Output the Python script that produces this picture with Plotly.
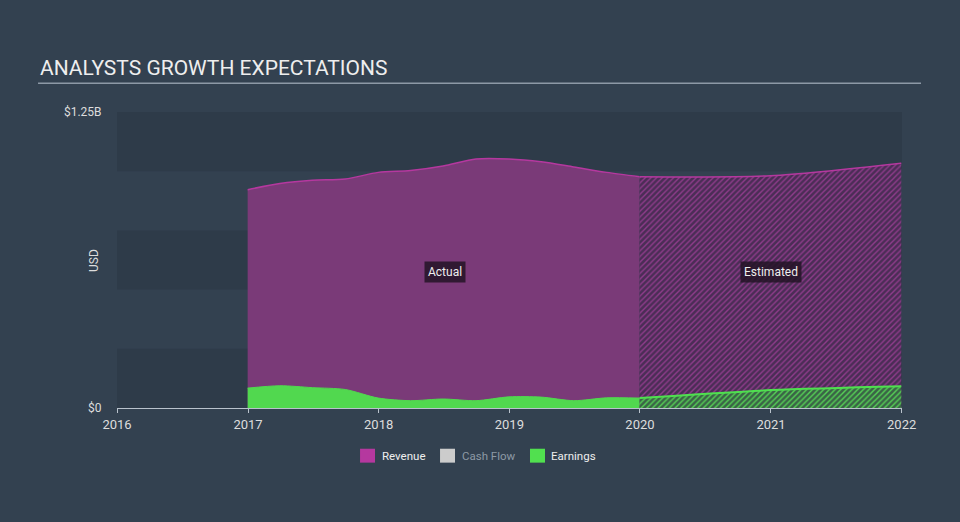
import plotly.graph_objects as go

# ---- data ----
rev_actual_dates = ["2016-12-31", "2017-03-31", "2017-06-30", "2017-09-30", "2017-12-31",
                    "2018-03-31", "2018-06-30", "2018-09-30", "2018-12-31", "2019-03-31",
                    "2019-06-30", "2019-09-30", "2019-12-31"]
rev_actual = [0.922e9, 0.948e9, 0.962e9, 0.967e9, 0.995e9, 1.003e9, 1.022e9, 1.052e9,
              1.052e9, 1.040e9, 1.018e9, 0.995e9, 0.977e9]
earn_actual = [0.084e9, 0.094e9, 0.086e9, 0.078e9, 0.042e9, 0.031e9, 0.038e9, 0.031e9,
               0.047e9, 0.046e9, 0.031e9, 0.043e9, 0.042e9]

est_dates = ["2019-12-31", "2020-12-31", "2021-12-31"]
rev_est = [0.977e9, 0.981e9, 1.034e9]
earn_est = [0.042e9, 0.0755e9, 0.092e9]

year_ticks = ["2016-01-01", "2017-01-01", "2018-01-01", "2019-01-01",
              "2020-01-01", "2021-01-01", "2022-01-01"]
year_labels = ["2016", "2017", "2018", "2019", "2020", "2021", "2022"]
y_tickvals = [0, 1.25e9]
y_ticktext = ["$0", "$1.25B"]

legend_names = ["Revenue", "Cash Flow", "Earnings"]
legend_colors = ["#b5389f", "#cccccc", "#51e04f"]
legend_text_colors = ["#eeeeee", "#8d99a5", "#eeeeee"]

BG = "#334150"
BAND = "#2e3b49"
REV_FILL = "#7a3a78"
REV_LINE = "#b5389f"
EARN = "#51d84f"

fig = go.Figure()

fig.add_trace(go.Scatter(x=rev_actual_dates, y=rev_actual, mode="lines", fill="tozeroy",
                         fillcolor=REV_FILL, line=dict(color=REV_LINE, width=1.5, shape="spline", smoothing=0.8),
                         showlegend=False, hoverinfo="skip"))
fig.add_trace(go.Scatter(x=est_dates, y=rev_est, mode="lines", fill="tozeroy",
                         fillpattern=dict(shape="/", bgcolor="#4b2d56", fgcolor="#8f3c8b",
                                          size=4, solidity=0.35, fillmode="replace"),
                         line=dict(color=REV_LINE, width=1.5, shape="spline", smoothing=0.8),
                         showlegend=False, hoverinfo="skip"))
fig.add_trace(go.Scatter(x=rev_actual_dates, y=earn_actual, mode="lines", fill="tozeroy",
                         fillcolor=EARN, line=dict(color=EARN, width=1, shape="spline", smoothing=0.8),
                         showlegend=False, hoverinfo="skip"))
fig.add_trace(go.Scatter(x=est_dates, y=earn_est, mode="lines", fill="tozeroy",
                         fillpattern=dict(shape="/", bgcolor="#3a6446", fgcolor="#56d156",
                                          size=4, solidity=0.35, fillmode="replace"),
                         line=dict(color="#4fe04f", width=2, shape="spline", smoothing=0.8),
                         showlegend=False, hoverinfo="skip"))

shapes = []
for y0, y1 in [(0, 0.25e9), (0.5e9, 0.75e9), (1.0e9, 1.25e9)]:
    shapes.append(dict(type="rect", xref="paper", yref="y", x0=0, x1=1, y0=y0, y1=y1,
                       fillcolor=BAND, line=dict(width=0), layer="below"))
shapes.append(dict(type="line", xref="paper", yref="paper", x0=-0.1006, x1=1.0242,
                   y0=1.0973, y1=1.0973, line=dict(color="#8d99a6", width=1.5)))

# custom legend (swatch + label)
sw_x = [0.3096, 0.4115, 0.5261]
tx_x = [0.335, 0.437, 0.5503]
for i, name in enumerate(legend_names):
    shapes.append(dict(type="rect", xref="paper", yref="paper", x0=sw_x[i], x1=sw_x[i] + 0.0191,
                       y0=-0.1846, y1=-0.1376, fillcolor=legend_colors[i], line=dict(width=0)))
fig.update_layout(shapes=shapes)
for i, name in enumerate(legend_names):
    fig.add_annotation(text=name, xref="paper", yref="paper", x=tx_x[i], y=-0.161,
                       xanchor="left", yanchor="middle", showarrow=False,
                       font=dict(size=11.5, color=legend_text_colors[i]))

fig.add_annotation(text="ANALYSTS GROWTH EXPECTATIONS", xref="paper", yref="paper",
                   x=-0.1006, y=1.103, xanchor="left", yanchor="bottom", showarrow=False,
                   font=dict(size=21, color="#eeeeee", family="Roboto"))
fig.add_annotation(text="USD", xref="paper", yref="paper", x=-0.0408, y=0.5,
                   textangle=-90, showarrow=False, font=dict(size=12, color="#dddddd"))
fig.add_annotation(text="Actual", x="2018-07-05", y=0.46, yref="paper", showarrow=False,
                   bgcolor="rgba(35,20,38,0.85)", font=dict(size=12, color="#eeeeee"), borderpad=3)
fig.add_annotation(text="Estimated", x="2021-01-01", y=0.46, yref="paper", showarrow=False,
                   bgcolor="rgba(35,20,38,0.85)", font=dict(size=12, color="#eeeeee"), borderpad=3)

fig.update_layout(
    width=960, height=522,
    margin=dict(l=117, r=58, t=112, b=114),
    paper_bgcolor=BG, plot_bgcolor=BG,
    font=dict(family="Roboto", color="#dddddd", size=12),
    hovermode=False,
    showlegend=False,
    xaxis=dict(type="date", range=["2016-01-01", "2022-01-02"], tickvals=year_ticks,
               ticktext=year_labels, showgrid=False, zeroline=False, showline=True,
               linecolor="#b9c2cc", linewidth=1, ticks="outside", ticklen=4, tickcolor="#b9c2cc",
               tickfont=dict(size=13, color="#dddddd")),
    yaxis=dict(range=[0, 1.25e9], tickvals=y_tickvals, ticktext=y_ticktext, showgrid=False,
               zeroline=False, showline=False, ticks="outside", ticklen=12,
               tickcolor="rgba(0,0,0,0)", tickfont=dict(size=12, color="#dddddd")),
)

fig.write_html("out.html", config={"displayModeBar": False},
               post_script="document.body.style.margin='0';document.body.style.background='%s';" % BG)
